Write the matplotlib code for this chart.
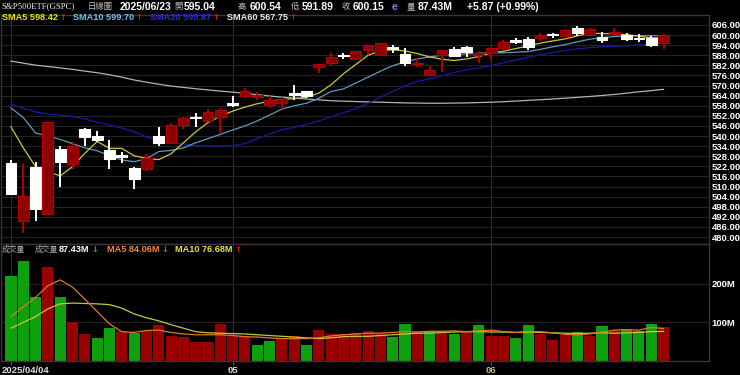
import matplotlib
matplotlib.use("Agg")
import matplotlib.pyplot as plt
from matplotlib import font_manager
from matplotlib.transforms import blended_transform_factory

# ---------------- data ----------------
opens = [523.8, 489.5, 521.8, 493.7, 532.1, 523.4, 544.2, 540.2, 531.7, 528.6,
         521.2, 520.2, 540.0, 536.1, 546.6, 551.2, 549.0, 551.6, 559.8, 563.8,
         563.0, 558.5, 559.5, 565.8, 567.0, 581.2, 583.2, 588.0, 585.6, 591.1,
         588.2, 592.6, 588.6, 582.8, 576.3, 588.2, 591.5, 592.7, 588.2, 589.2,
         592.2, 596.8, 597.5, 598.1, 600.5, 599.5, 604.4, 600.1, 599.1, 600.7,
         600.1, 598.0, 598.1, 595.04]
highs = [525.8, 523.4, 524.8, 548.6, 534.1, 536.5, 544.6, 543.2, 537.7, 530.7,
         521.8, 529.2, 545.6, 548.0, 551.6, 553.5, 555.9, 556.5, 563.8, 568.4,
         566.4, 563.8, 563.4, 570.4, 567.0, 583.0, 589.2, 589.2, 590.5, 594.1,
         595.4, 594.1, 592.1, 586.2, 581.6, 591.1, 592.7, 593.5, 590.7, 593.1,
         597.1, 598.1, 599.1, 601.1, 601.1, 603.4, 605.4, 604.0, 602.0, 604.0,
         601.4, 600.7, 599.5, 600.54]
lows = [504.8, 482.2, 489.5, 493.2, 509.9, 520.2, 534.1, 536.7, 520.2, 524.2,
        508.4, 519.4, 534.1, 535.7, 544.0, 545.2, 548.5, 541.6, 557.5, 562.4,
        561.4, 556.5, 556.0, 561.4, 562.4, 577.3, 582.2, 585.8, 585.0, 588.2,
        587.8, 589.6, 581.6, 581.2, 575.7, 578.3, 587.0, 586.8, 583.2, 585.2,
        591.1, 594.7, 591.1, 596.7, 598.1, 599.1, 599.5, 599.5, 595.1, 600.1,
        596.7, 596.1, 592.7, 591.89]
closes = [505.6, 504.4, 496.7, 548.5, 524.8, 534.1, 539.3, 537.7, 526.2, 527.8,
          514.3, 526.8, 535.7, 546.6, 550.6, 550.8, 554.5, 555.5, 558.5, 567.0,
          564.4, 561.4, 562.0, 564.4, 563.8, 582.8, 586.8, 587.6, 590.5, 594.1,
          595.1, 591.8, 583.2, 583.6, 579.3, 591.1, 587.8, 589.8, 589.4, 592.2,
          596.1, 596.0, 593.1, 600.1, 600.3, 603.0, 601.1, 603.4, 597.1, 602.0,
          597.5, 597.4, 594.1, 600.15]

sma5 = [545.5, 533.0, 521.8, 518.8, 516.4, 521.8, 529.8, 536.8, 532.7, 532.7,
        528.3, 526.8, 526.0, 529.5, 536.0, 542.5, 548.0, 551.8, 554.8, 557.2,
        559.2, 560.7, 561.6, 562.3, 563.0, 565.5, 570.5, 577.0, 582.5, 588.0,
        590.6, 591.3, 590.5, 589.0, 587.0, 585.6, 584.9, 585.8, 587.2, 589.4,
        590.4, 592.0, 593.5, 595.2, 596.5, 597.7, 599.5, 601.1, 600.9, 600.7,
        600.2, 599.3, 598.3, 598.42]
sma10 = [556.7, 551.0, 541.8, 540.0, 538.0, 535.5, 533.0, 531.3, 528.3, 525.8,
         524.8, 526.5, 530.8, 531.5, 533.0, 536.0, 538.5, 541.0, 543.6, 546.0,
         549.0, 552.5, 556.0, 558.0, 559.5, 562.5, 566.5, 568.0, 571.5, 575.0,
         578.5, 581.8, 584.0, 585.8, 587.0, 588.0, 588.4, 588.8, 589.2, 589.4,
         589.5, 589.8, 590.2, 591.5, 593.0, 594.3, 596.0, 597.5, 598.4, 599.1,
         599.5, 599.6, 599.6, 599.70]
sma20 = [558.9, 556.5, 554.3, 553.2, 552.4, 551.6, 550.2, 548.2, 546.5, 544.8,
         542.6, 539.5, 537.0, 535.9, 535.2, 534.4, 534.1, 534.1, 534.3, 535.5,
         538.5, 541.2, 543.8, 545.2, 546.8, 549.0, 551.5, 553.8, 556.2, 559.5,
         563.0, 566.5, 569.8, 572.5, 574.0, 575.8, 577.8, 579.3, 580.5, 581.8,
         583.6, 585.3, 586.8, 588.4, 589.6, 590.8, 591.8, 592.5, 593.0, 593.4,
         593.7, 594.1, 594.7, 595.87]
sma60 = [584.5, 583.3, 582.1, 581.3, 580.5, 579.6, 578.6, 577.6, 576.4, 575.0,
         573.3, 572.0, 570.8, 569.7, 568.9, 568.1, 567.4, 566.7, 566.1, 565.4,
         564.6, 563.8, 563.1, 562.5, 562.0, 561.5, 561.0, 560.7, 560.5, 560.3,
         560.1, 559.9, 559.7, 559.6, 559.5, 559.5, 559.6, 559.7, 559.9, 560.1,
         560.4, 560.8, 561.2, 561.6, 562.0, 562.5, 563.0, 563.5, 564.1, 564.7,
         565.5, 566.3, 567.0, 567.75]

volume = [219, 258, 167, 243, 165, 100, 71, 59, 85, 79,
          72, 77, 92, 66, 63, 50, 50, 95, 66, 66,
          41, 51, 58, 66, 41, 80, 70, 70, 73, 77,
          70, 63, 97, 77, 77, 75, 70, 75, 92, 64,
          66, 60, 94, 71, 55, 68, 75, 66, 91, 81,
          84, 79, 96, 87.43]
vol_dir = "GGGRGRRGGRGRRRRRRRRRGGRRGRRRRRRGGRGRGRGRRGGRRRGRGRGGGR"
vol_ma5 = [115, 140, 165, 195, 210, 191, 160, 128, 96, 76,
           74, 79, 80, 74, 70, 68, 68, 68, 66, 63,
           62, 60, 58, 58, 58, 60, 65, 68, 70, 72,
           72, 74, 76, 75, 77, 77, 78, 76, 78, 80,
           76, 74, 76, 76, 73, 69, 68, 70, 75, 80,
           81, 80, 87, 84.06]
vol_ma10 = [85, 100, 115, 135, 148, 150, 149, 148, 146, 137,
            122, 112, 104, 94, 85, 76, 73, 72, 71, 70,
            68, 66, 64, 62, 60, 58, 60, 63, 64, 64,
            66, 68, 70, 72, 72, 74, 75, 76, 76, 75,
            75, 74, 75, 74, 73, 72, 71, 72, 73, 72,
            73, 74, 76, 76.68]

price_ticks = [480 + 6 * k for k in range(22)]
vol_ticks = [100, 200]
vol_tick_labels = ["100M", "200M"]
date_ticks = [0, 18, 39]
date_labels = ["2025/04/04", "05", "06"]

# ---------------- fonts ----------------
names = {f.name for f in font_manager.fontManager.ttflist}
NARROW = "Liberation Sans Narrow" if "Liberation Sans Narrow" in names else "Liberation Sans"
CJK = "Noto Sans CJK TC"
SERIF = "Liberation Serif"

W, H = 740, 375
fig = plt.figure(figsize=(W / 100, H / 100), dpi=100, facecolor="black")

RED_BODY = "#8e0000"
RED_EDGE = "#b40000"
WHITE = "#ffffff"
VRED = "#990000"
VGREEN = "#0fa00f"
GRID = "#242424"
SPINE = "#3c3042"

x_left, x_right = -0.81, 56.69
ax1 = fig.add_axes([1 / W, 1 - 244 / H, 708 / W, (244 - 15) / H])
ax2 = fig.add_axes([1 / W, 1 - 361.4 / H, 708 / W, (361.4 - 244) / H])
for ax in (ax1, ax2):
    ax.set_facecolor("black")
    for s in ax.spines.values():
        s.set_color(SPINE)
        s.set_linewidth(1.0)
    ax.set_xlim(x_left, x_right)
    for xv in date_ticks:
        ax.axvline(xv, color="#2e2e2e", lw=0.8, zorder=0)

TICK_SIZE = 6.8

# ---------------- price panel ----------------
ax1.set_ylim(475.9, 611.9)
ax1.set_yticks(price_ticks)
ax1.set_yticklabels([f"{v:.2f}" for v in price_ticks])
ax1.yaxis.tick_right()
ax1.tick_params(axis="y", length=0, pad=2, colors="white", labelsize=TICK_SIZE)
for lab in ax1.get_yticklabels():
    lab.set_fontfamily(NARROW)
    lab.set_fontweight("bold")
ax1.tick_params(axis="x", length=0, labelbottom=False)
ax1.grid(axis="y", color=GRID, lw=0.8, zorder=0)

xs = list(range(len(closes)))
ax1.plot(xs, sma60, color="#b4b4b4", lw=0.9, zorder=2)
ax1.plot(xs, sma20, color="#1a1aa6", lw=0.9, zorder=2)
ax1.plot(xs, sma10, color="#5c9cbc", lw=0.9, zorder=2)
ax1.plot(xs, sma5, color="#c8c83c", lw=0.9, zorder=2)

for i in xs:
    o, h, l, c = opens[i], highs[i], lows[i], closes[i]
    up = c > o
    fc = RED_BODY if up else WHITE
    ec = RED_EDGE if up else WHITE
    ax1.vlines(i, l, h, color=ec, lw=1.4, zorder=3)
    ax1.bar(i, abs(c - o), bottom=min(o, c), width=0.88, color=fc,
            edgecolor=ec, linewidth=0.8, zorder=4)

# ---------------- volume panel ----------------
ax2.set_ylim(-1, 303)
vcols = [VRED if d == "R" else VGREEN for d in vol_dir]
ax2.bar(xs, volume, width=0.9, color=vcols, zorder=2)
ax2.plot(xs, vol_ma10, color="#c8c832", lw=0.9, zorder=3)
ax2.plot(xs, vol_ma5, color="#e0782a", lw=0.9, zorder=3)
ax2.set_yticks(vol_ticks)
ax2.set_yticklabels(vol_tick_labels)
ax2.yaxis.tick_right()
ax2.tick_params(axis="y", length=0, pad=2, colors="white", labelsize=TICK_SIZE)
for lab in ax2.get_yticklabels():
    lab.set_fontfamily(NARROW)
    lab.set_fontweight("bold")
ax2.grid(axis="y", color=GRID, lw=0.8, zorder=0)
ax2.set_xticks(date_ticks)
ax2.set_xticklabels([])
ax2.tick_params(axis="x", length=3, color="#555555", width=0.8)

tr = blended_transform_factory(ax2.transData, ax2.transAxes)
date_colors = ["#e0e0e0", "#e0e0e0", "#c8c070"]
for k, (xv, lab) in enumerate(zip(date_ticks, date_labels)):
    if k == 0:
        ax2.text(x_left + 0.05, -0.075, lab, transform=tr, ha="left", va="center",
                 color=date_colors[k], fontsize=TICK_SIZE, fontfamily=NARROW, fontweight="bold")
    else:
        ax2.text(xv, -0.075, lab, transform=tr, ha="center", va="center",
                 color=date_colors[k], fontsize=TICK_SIZE, fontfamily=NARROW, fontweight="bold")

# ---------------- header texts ----------------
def ftxt(x, y, s, color, size=7.5, family=None, weight="bold"):
    return fig.text(x / W, 1 - y / H, s, color=color, fontsize=size,
                    family=family or NARROW, fontweight=weight, ha="left", va="center")

fig.canvas.draw()
renderer = fig.canvas.get_renderer()

def with_arrow(x, y, s, color, arrow, acolor, size=6.6):
    t = ftxt(x, y, s, color, size)
    bb = t.get_window_extent(renderer)
    fig.text((bb.x1 + 1.5) / W, 1 - y / H, arrow, color=acolor, fontsize=size - 0.6,
             family="DejaVu Sans", fontweight="bold", ha="left", va="center")

CJK_COL = "#c0c0c0"
y1 = 6.5
ftxt(1, y1, "S&P500ETF(GSPC)", "#f0f0f0", size=6.3, family=SERIF, weight="normal")
ftxt(88, y1, "日線圖", CJK_COL, size=6.0, family=CJK, weight="normal")
ftxt(120, y1, "2025/06/23", "white")
ftxt(174, y1, "開", CJK_COL, size=6.0, family=CJK, weight="normal")
ftxt(184, y1, "595.04", "white")
ftxt(238, y1, "高", CJK_COL, size=6.0, family=CJK, weight="normal")
ftxt(250, y1, "600.54", "white")
ftxt(291, y1, "低", CJK_COL, size=6.0, family=CJK, weight="normal")
ftxt(302, y1, "591.89", "white")
ftxt(342, y1, "收", CJK_COL, size=6.0, family=CJK, weight="normal")
ftxt(353, y1, "600.15", "white")
ftxt(392, y1, "e", "#8a7cf0")
ftxt(407, y1, "量", CJK_COL, size=6.0, family=CJK, weight="normal")
ftxt(418, y1, "87.43M", "white")
ftxt(467, y1, "+5.87 (+0.99%)", "white")

y2 = 17
with_arrow(2, y2, "SMA5 598.42", "#e6e600", "↑", "#e01010")
with_arrow(73, y2, "SMA10 599.70", "#6ec3e6", "↑", "#e01010")
with_arrow(150, y2, "SMA20 595.87", "#2b2bd6", "↑", "#e01010")
with_arrow(227, y2, "SMA60 567.75", "#e8e8e8", "↑", "#e01010")

y3 = 250
ftxt(2, y3, "成交量", "#b0b0b0", size=5.6, family=CJK, weight="normal")
ftxt(35, y3, "成交量", "#b0b0b0", size=5.6, family=CJK, weight="normal")
with_arrow(59, y3, "87.43M", "white", "↓", "#10c010")
with_arrow(107, y3, "MA5 84.06M", "#f08a3c", "↓", "#10c010")
with_arrow(175, y3, "MA10 76.68M", "#e6e632", "↑", "#e01010")

fig.savefig("out.png", dpi=100, facecolor="black")
